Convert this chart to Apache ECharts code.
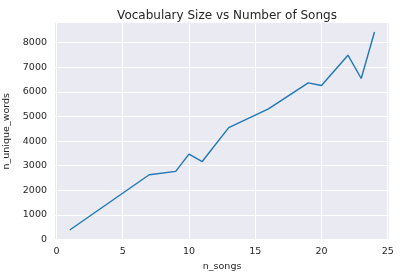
<!DOCTYPE html>
<html>
<head>
<meta charset="utf-8">
<script src="https://cdn.jsdelivr.net/npm/echarts@6/dist/echarts.min.js"></script>
<style>
html,body{margin:0;padding:0;background:#fff;}
#chart{width:400px;height:278px;}
</style>
</head>
<body>
<div id="chart"></div>
<script>
var nSongs = [1, 7, 9, 10, 11, 13, 16, 19, 20, 22, 23, 24];
var nUniqueWords = [390, 2635, 2772, 3474, 3170, 4545, 5310, 6364, 6258, 7487, 6542, 8431];

var points = nSongs.map(function (x, i) { return [x, nUniqueWords[i]]; });
var textColor = '#262626';
var font = 'DejaVu Sans';
function whole(v) { return (Math.abs(v - Math.round(v)) < 1e-6) ? String(Math.round(v)) : ''; }

var chart = echarts.init(document.getElementById('chart'), null, {renderer: 'canvas'});
chart.setOption({
  animation: false,
  backgroundColor: '#ffffff',
  title: {
    text: 'Vocabulary Size vs Number of Songs',
    left: 222,
    textAlign: 'center',
    top: 5,
    textStyle: {fontFamily: font, fontSize: 12, fontWeight: 'normal', color: textColor}
  },
  grid: {
    left: 54.5, right: 10.3, top: 22.3, bottom: 37.8,
    containLabel: false, outerBoundsMode: 'none',
    show: true, backgroundColor: '#eaeaf2', borderWidth: 0
  },
  xAxis: {
    type: 'value',
    min: -0.15, max: 25.15,
    splitNumber: 5, minInterval: 5, maxInterval: 5,
    name: 'n_songs', nameLocation: 'middle', nameGap: 20,
    nameTextStyle: {fontFamily: font, fontSize: 9.5, color: textColor},
    axisLine: {show: false}, axisTick: {show: false},
    axisLabel: {
      fontFamily: font, fontSize: 9.5, color: textColor, margin: 6,
      showMinLabel: false, showMaxLabel: false, formatter: whole
    },
    splitLine: {show: true, lineStyle: {color: '#ffffff', width: 1}}
  },
  yAxis: {
    type: 'value',
    min: -22, max: 8822,
    splitNumber: 9, minInterval: 1000, maxInterval: 1000,
    name: 'n_unique_words', nameLocation: 'middle', nameGap: 33,
    nameTextStyle: {fontFamily: font, fontSize: 9.5, color: textColor},
    axisLine: {show: false}, axisTick: {show: false},
    axisLabel: {
      fontFamily: font, fontSize: 9.5, color: textColor, margin: 7.5,
      showMinLabel: false, showMaxLabel: false, formatter: whole
    },
    splitLine: {show: true, lineStyle: {color: '#ffffff', width: 1}}
  },
  series: [{
    type: 'line',
    data: points,
    showSymbol: false,
    symbol: 'none',
    lineStyle: {color: '#1f77b4', width: 1.4},
    itemStyle: {color: '#1f77b4'}
  }]
});
</script>
</body>
</html>
